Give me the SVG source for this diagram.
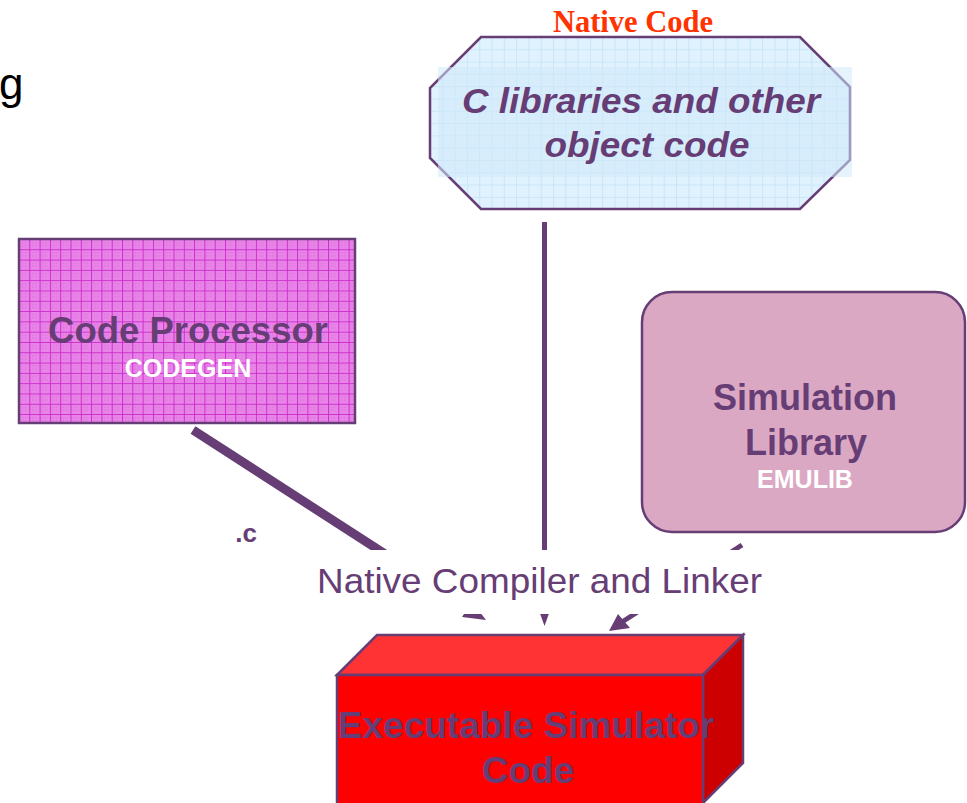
<svg xmlns="http://www.w3.org/2000/svg" width="967" height="803" viewBox="0 0 967 803">
<defs>
<pattern id="gridMag" patternUnits="userSpaceOnUse" x="19" y="239" width="10.3" height="10.3">
<rect width="10.3" height="10.3" fill="#e884e8"/>
<path d="M0 0.5H10.3M0.5 0V10.3" stroke="#cc2fcc" stroke-width="1"/>
<path d="M3 3h1v1h-1zM6 6h1v1h-1zM6 3h1v1h-1zM3 6h1v1h-1z" fill="#d860d8"/>
</pattern>
<pattern id="gridBlue" patternUnits="userSpaceOnUse" x="430" y="37" width="12.3" height="12.3">
<rect width="12.3" height="12.3" fill="#e0f2fd"/>
<path d="M0 0.5H12.3M0.5 0V12.3" stroke="#c9e5f7" stroke-width="1"/>
</pattern>
</defs>
<style>
.t{font-family:"Liberation Sans",Arial,sans-serif;fill:#663d74;font-weight:bold;text-anchor:middle}
.w{font-family:"Liberation Sans",Arial,sans-serif;fill:#ffffff;font-weight:bold;text-anchor:middle}
.edge{stroke:#663d74;fill:none}
.head{fill:#663d74}
.box{stroke:#663d74;stroke-width:2.5}
</style>
<rect width="967" height="803" fill="#ffffff"/>
<text x="-1" y="99" font-family="Liberation Sans, Arial, sans-serif" font-size="44" fill="#000000">g</text>

<g id="connectors">
<line class="edge" x1="193" y1="430" x2="478" y2="614" stroke-width="9"/>
<path class="head" d="M486 620L462 617L472 602Z"/>
<line class="edge" x1="544.5" y1="222" x2="544.5" y2="612" stroke-width="5"/>
<path class="head" d="M539.5 612L549.5 612L544.5 626Z"/>
<line class="edge" x1="742" y1="545" x2="622" y2="622" stroke-width="5"/>
<path class="head" d="M609 631L618 614L630 628Z"/>
<rect x="300" y="550" width="480" height="64" fill="#ffffff"/>
<text x="539.5" y="593" font-family="Liberation Sans, Arial, sans-serif" font-size="35" fill="#663d74" text-anchor="middle" textLength="445" lengthAdjust="spacingAndGlyphs">Native Compiler and Linker</text>
<text x="246" y="542" class="t" font-size="26">.c</text>
</g>

<g id="native-code">
<text x="633" y="32" font-family="Liberation Serif, Times New Roman, serif" font-weight="bold" font-size="30.5" fill="#ff3300" text-anchor="middle">Native Code</text>
<polygon points="481,37 800,37 850,87 850,160 800,209 481,209 430,158 430,88" fill="url(#gridBlue)" class="box"/>
<rect x="438" y="67" width="414" height="110" fill="#cfe9fb" opacity="0.55"/>
<text x="641" y="113" class="t" font-style="italic" font-size="35.5" textLength="358" lengthAdjust="spacingAndGlyphs">C libraries and other</text>
<text x="647" y="157" class="t" font-style="italic" font-size="35.5" textLength="205" lengthAdjust="spacingAndGlyphs">object code</text>
</g>

<g id="code-processor">
<rect x="19" y="239" width="336" height="184" fill="url(#gridMag)" class="box"/>
<text x="188" y="343" class="t" font-size="36.5">Code Processor</text>
<text x="188" y="377" class="w" font-size="25">CODEGEN</text>
</g>

<g id="simulation-library">
<rect x="642" y="292" width="323" height="240" rx="30" ry="30" fill="#dba8c4" class="box"/>
<text x="805" y="410" class="t" font-size="36">Simulation</text>
<text x="806" y="455" class="t" font-size="36">Library</text>
<text x="805" y="488" class="w" font-size="25">EMULIB</text>
</g>

<g id="executable">
<polygon points="337,675 377,635 743,635 703,675" fill="#ff3333" class="box"/>
<polygon points="703,675 743,635 743,763 703,803" fill="#cc0000" class="box"/>
<rect x="337" y="675" width="366" height="140" fill="#ff0000" class="box"/>
<text x="526" y="738" class="t" font-size="37">Executable Simulator</text>
<text x="528" y="783" class="t" font-size="37">Code</text>
</g>
</svg>
